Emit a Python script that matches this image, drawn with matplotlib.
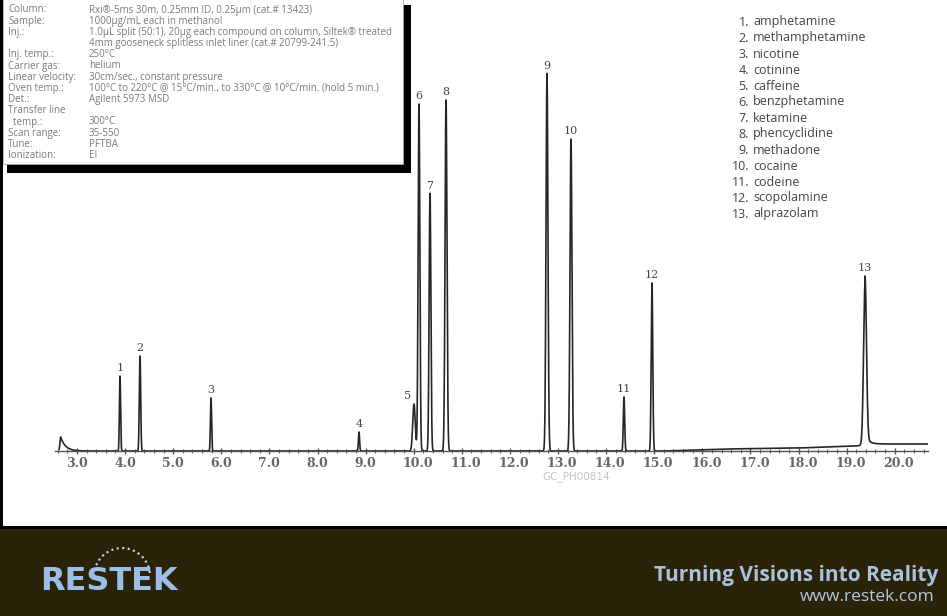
import numpy as np
import matplotlib
matplotlib.use("Agg")
import matplotlib.pyplot as plt
from matplotlib.patches import Rectangle, Arc
from matplotlib.ticker import MultipleLocator
from matplotlib.transforms import ScaledTranslation

# ---------------- data ----------------
peak_ids = ["1", "2", "3", "4", "5", "6", "7", "8", "9", "10", "11", "12", "13"]
retention_min = [3.894, 4.31, 5.786, 8.863, 10.006, 10.11, 10.339, 10.672,
                 12.771, 13.27, 14.372, 14.954, 19.383]
peak_height = [75, 95, 53, 19, 47, 347, 258, 351, 378, 312, 54, 168, 161]
peak_sigma = [0.012, 0.014, 0.012, 0.012, 0.026, 0.018, 0.018, 0.02,
              0.02, 0.02, 0.014, 0.016, 0.03]
compounds = ["amphetamine", "methamphetamine", "nicotine", "cotinine", "caffeine",
             "benzphetamine", "ketamine", "phencyclidine", "methadone", "cocaine",
             "codeine", "scopolamine", "alprazolam"]
# solvent front and baseline drift
solvent_time, solvent_height, solvent_tau = 2.66, 14, 0.1
tail13_height, tail13_tau = 8, 0.08
drift_time = [2.6, 15.2, 16.5, 18.0, 19.2, 19.5, 20.7]
drift_level = [0, 0, 2, 3, 5, 7, 7]
tick_values = list(range(3, 21))

cond_labels = ["Column:", "Sample:", "Inj.:", "", "Inj. temp.:", "Carrier gas:",
               "Linear velocity:", "Oven temp.:", "Det.:", "Transfer line", "  temp.:",
               "Scan range:", "Tune:", "Ionization:"]
cond_values = ["Rxi\u00ae-5ms 30m, 0.25mm ID, 0.25\u00b5m (cat.# 13423)",
               "1000\u00b5g/mL each in methanol",
               "1.0\u00b5L split (50:1), 20\u00b5g each compound on column, Siltek\u00ae treated",
               "4mm gooseneck splitless inlet liner (cat.# 20799-241.5)",
               "250\u00b0C", "helium", "30cm/sec., constant pressure",
               "100\u00b0C to 220\u00b0C @ 15\u00b0C/min., to 330\u00b0C @ 10\u00b0C/min. (hold 5 min.)",
               "Agilent 5973 MSD", "", "300\u00b0C", "35-550", "PFTBA", "EI"]

# ---------------- figure ----------------
W, H = 947, 616
fig = plt.figure(figsize=(W / 100, H / 100), dpi=100)
fig.patch.set_facecolor("white")

bg = fig.add_axes([0, 0, 1, 1], zorder=0)
bg.set_xlim(0, W); bg.set_ylim(H, 0); bg.axis("off")
bg.add_patch(Rectangle((0, 529), W, H - 529, color="#2a2309", lw=0))
bg.add_patch(Rectangle((0, 526), W, 3, color="black", lw=0))
bg.add_patch(Rectangle((0, 0), 2.5, 529, color="black", lw=0))

# chromatogram axes: 1 y-unit = 1 pixel, baseline at y=451 px
x_left_px, x_right_px = 55, 928
px_per_min, x3_px = 48.1, 77
ax = fig.add_axes([x_left_px / W, (H - 451) / H, (x_right_px - x_left_px) / W, 411 / H], zorder=1)
ax.patch.set_alpha(0)
t_min = 3 + (x_left_px - x3_px) / px_per_min
t_max = 3 + (x_right_px - x3_px) / px_per_min
ax.set_xlim(t_min, t_max)
ax.set_ylim(0, 411)

t = np.arange(2.63, t_max, 0.002)
y = np.interp(t, drift_time, drift_level).astype(float)
for rt, h, s in zip(retention_min, peak_height, peak_sigma):
    y += h * np.exp(-0.5 * ((t - rt) / s) ** 2)
# solvent front
sol = np.where(t < solvent_time,
               solvent_height * np.exp(-0.5 * ((t - solvent_time) / 0.015) ** 2),
               solvent_height * np.exp(-(t - solvent_time) / solvent_tau))
y += sol
# tailing of peak 13
rt13 = retention_min[12]
y += np.where(t > rt13, tail13_height * np.exp(-(t - rt13) / tail13_tau), 0)
ax.plot(t, y, color="#262626", lw=1.2, solid_joinstyle="round")

label_dx = {"5": -6}
for pid, rt in zip(peak_ids, retention_min):
    near = np.abs(t - rt) < 0.01
    top = y[near].max()
    ax.annotate(pid, (rt, top), xytext=(label_dx.get(pid, 0) * 0.72, 2),
                textcoords="offset points", ha="center", va="bottom",
                fontsize=8, color="#444444", family="DejaVu Serif")

for sp in ["left", "top", "right"]:
    ax.spines[sp].set_visible(False)
ax.spines["bottom"].set_color("#555555")
ax.spines["bottom"].set_linewidth(1.0)
ax.set_yticks([])
ax.set_xticks(tick_values)
ax.set_xticklabels([f"{v:.1f}" for v in tick_values])
ax.xaxis.set_minor_locator(MultipleLocator(0.2))
ax.tick_params(axis="x", which="major", direction="inout", length=5, width=1,
               color="#555555", labelsize=9, labelcolor="#666666", pad=2)
ax.tick_params(axis="x", which="minor", direction="inout", length=3, width=0.8,
               color="#666666")
shift = ScaledTranslation(4 / 100, 0, fig.dpi_scale_trans)
for lbl, v in zip(ax.get_xticklabels(), tick_values):
    lbl.set_fontfamily("DejaVu Serif")
    lbl.set_fontweight("bold")
    if v >= 10:
        lbl.set_transform(lbl.get_transform() + shift)

# ---------------- overlay ----------------
ov = fig.add_axes([0, 0, 1, 1], zorder=3)
ov.set_xlim(0, W); ov.set_ylim(H, 0); ov.axis("off"); ov.patch.set_alpha(0)

ov.text(576, 477, "GC_PH00814", ha="center", va="center", fontsize=7.5,
        color="#c4c4c4", family="DejaVu Sans")

# conditions box with shadow
ov.add_patch(Rectangle((7, 5), 404, 168, color="black", lw=0))
ov.add_patch(Rectangle((2.5, -1), 400.5, 165, facecolor="white", edgecolor="#aaaaaa", lw=0.6))
for i, (lab, val) in enumerate(zip(cond_labels, cond_values)):
    yy = 10 + i * 11.2
    ov.text(8, yy, lab, ha="left", va="center", fontsize=7.0, color="#7a7a7a", family="Open Sans")
    ov.text(89, yy, val, ha="left", va="center", fontsize=7.0, color="#7a7a7a", family="Open Sans")

# compound list
for i, name in enumerate(compounds):
    yy = 22 + i * 16.0
    ov.text(749, yy, f"{i + 1}.", ha="right", va="center", fontsize=9,
            color="#444444", family="Open Sans")
    ov.text(753, yy, name, ha="left", va="center", fontsize=9,
            color="#444444", family="Open Sans")

# footer
ov.text(40, 582, "RESTEK", ha="left", va="center", fontsize=23, fontweight="bold",
        color="#9bbfe9", family="DejaVu Sans")
ov.add_patch(Arc((122, 576), 56, 56, theta1=180, theta2=360, color="#c9daf0",
                 lw=1.5, linestyle=":"))
ov.text(938, 576, "Turning Visions into Reality", ha="right", va="center", fontsize=15,
        fontweight="bold", color="#a9c1dc", family="Open Sans")
ov.text(935, 597, "www.restek.com", ha="right", va="center", fontsize=12.5,
        color="#b5c8dd", family="Open Sans")

fig.savefig("out.png", dpi=100, facecolor=fig.get_facecolor())
